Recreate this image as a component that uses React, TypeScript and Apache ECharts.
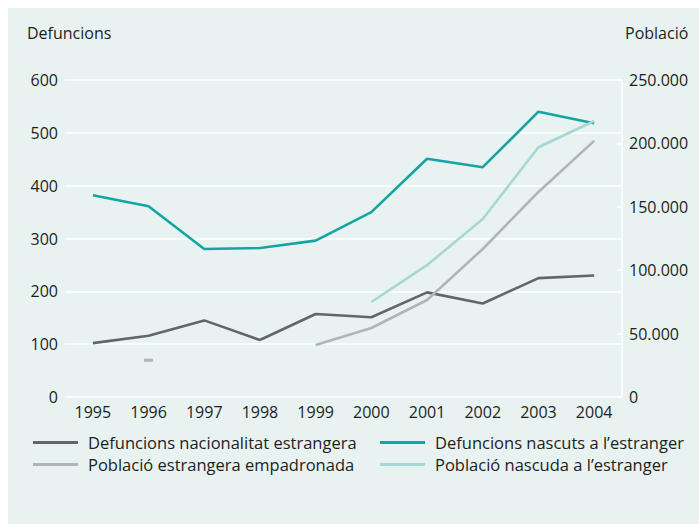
import React, { useEffect, useRef } from "react";
import * as echarts from "echarts";

const years = ["1995", "1996", "1997", "1998", "1999", "2000", "2001", "2002", "2003", "2004"];
const defuncionsNacionalitat = [102, 116, 145, 108, 157, 151, 198, 177, 225, 230];
const defuncionsNascuts = [382, 361, 280, 282, 296, 350, 451, 435, 540, 518];
const poblacioEmpadronada: (number | null)[] = [null, 29000, null, null, 41000, 54400, 76500, 116700, 161700, 202000];
const poblacioNascuda: (number | null)[] = [null, null, null, null, null, 74900, 104000, 140400, 197000, 217700];

const names = [
  "Defuncions nacionalitat estrangera",
  "Defuncions nascuts a l\u2019estranger",
  "Població estrangera empadronada",
  "Població nascuda a l\u2019estranger",
];
const colors = ["#646567", "#14a5a2", "#b4b4b4", "#a6d7d5"];

const FONT = "'Open Sans', 'Noto Sans', sans-serif";
const BG = "#e8f2f1";

export default function App() {
  const ref = useRef<HTMLDivElement>(null);
  useEffect(() => {
    document.documentElement.style.overflow = "hidden";
    document.body.style.overflow = "hidden";
    const chart = echarts.init(ref.current!, null, { renderer: "svg" });
    const legendBase = {
      orient: "vertical" as const,
      icon: "rect",
      itemWidth: 45,
      itemHeight: 3,
      itemGap: 5,
      top: 426,
      padding: 0,
      textStyle: { fontFamily: FONT, fontSize: 16.5, color: "#1e1e1e", lineHeight: 16, padding: [0, 0, 0, 5] },
    };
    chart.setOption({
      animation: false,
      backgroundColor: BG,
      textStyle: { fontFamily: FONT },
      grid: { left: 57, right: 85, top: 72, bottom: 135 },
      legend: [
        { ...legendBase, left: 25, data: [names[0], names[2]] },
        { ...legendBase, left: 372, data: [names[1], names[3]] },
      ],
      graphic: [
        { type: "text", left: 19, top: 17, style: { text: "Defuncions", font: `16px ${FONT}`, fill: "#1e1e1e" } },
        { type: "text", left: 617, top: 17, style: { text: "Població", font: `16px ${FONT}`, fill: "#1e1e1e" } },
      ],
      xAxis: {
        type: "category",
        data: years,
        boundaryGap: true,
        axisLine: { show: false },
        axisTick: { show: false },
        axisLabel: { color: "#1e1e1e", fontSize: 16, margin: 7, fontFamily: FONT },
      },
      yAxis: [
        {
          type: "value",
          min: 0,
          max: 600,
          interval: 100,
          axisLine: { show: false },
          axisTick: { show: false },
          axisLabel: { color: "#1e1e1e", fontSize: 16, margin: 7, fontFamily: FONT },
          splitLine: { lineStyle: { color: "#ffffff", width: 1.5 } },
        },
        {
          type: "value",
          min: 0,
          max: 250000,
          interval: 50000,
          position: "right",
          axisLine: { show: true, lineStyle: { color: "#ffffff", width: 1.5 } },
          axisTick: { show: true, inside: true, length: 5, lineStyle: { color: "#ffffff", width: 1.5 } },
          axisLabel: {
            color: "#1e1e1e",
            fontSize: 16,
            margin: 7,
            fontFamily: FONT,
            formatter: (v: number) => v.toLocaleString("de-DE"),
          },
          splitLine: { show: false },
        },
      ],
      series: [
        {
          name: names[0],
          type: "line",
          yAxisIndex: 0,
          data: defuncionsNacionalitat,
          symbol: "none",
          lineStyle: { color: colors[0], width: 2.6 },
          itemStyle: { color: colors[0] },
        },
        {
          name: names[1],
          type: "line",
          yAxisIndex: 0,
          data: defuncionsNascuts,
          symbol: "none",
          lineStyle: { color: colors[1], width: 2.6 },
          itemStyle: { color: colors[1] },
        },
        {
          name: names[2],
          type: "line",
          yAxisIndex: 1,
          data: poblacioEmpadronada.map((v, i) =>
            i === 1 ? { value: v, symbol: "rect", symbolSize: [9, 3] } : v
          ),
          symbol: "none",
          showAllSymbol: true,
          lineStyle: { color: colors[2], width: 2.6 },
          itemStyle: { color: colors[2] },
        },
        {
          name: names[3],
          type: "line",
          yAxisIndex: 1,
          data: poblacioNascuda,
          symbol: "none",
          lineStyle: { color: colors[3], width: 2.6 },
          itemStyle: { color: colors[3] },
        },
      ],
    });
    return () => chart.dispose();
  }, []);
  return (
    <div style={{ position: "fixed", left: 8, top: 8, right: -30, bottom: -30, background: BG, overflow: "hidden" }}>
      <div ref={ref} style={{ width: 699, height: 524 }} />
    </div>
  );
}
